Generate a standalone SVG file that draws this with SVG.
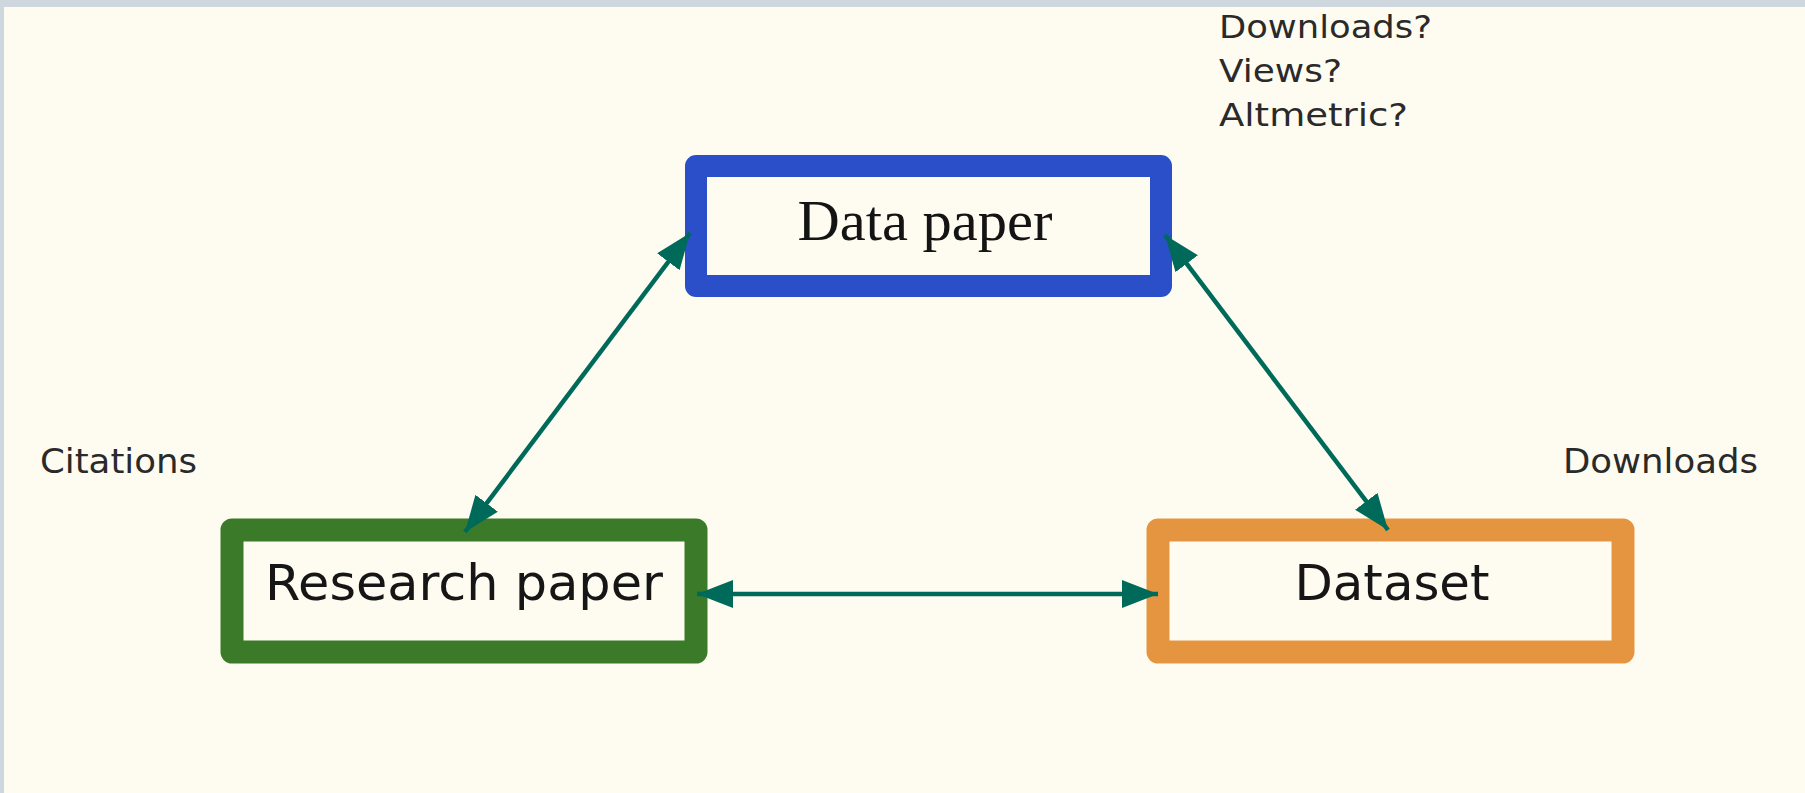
<svg xmlns="http://www.w3.org/2000/svg" width="1805" height="793" viewBox="0 0 1805 793">
  <defs>
    <style>
      .box { fill: #FEFCF1; stroke-linejoin: round; }
      .serif { font-family: "Liberation Serif", "Times New Roman", serif; fill: #141414; }
      .sans { font-family: "DejaVu Sans", "Liberation Sans", sans-serif; fill: #161616; }
      .lbl { font-family: "DejaVu Sans", "Liberation Sans", sans-serif; fill: #2a2a2a; }
      .conn { stroke: #006A5A; stroke-width: 4.5; fill: none; marker-start: url(#ah); marker-end: url(#ah); }
    </style>
    <marker id="ah" markerUnits="userSpaceOnUse" markerWidth="42" markerHeight="32" refX="36" refY="14" orient="auto-start-reverse" viewBox="0 0 42 32">
      <path d="M0,0 L36,14 L0,28 z" fill="#006A5A"/>
    </marker>
  </defs>
  <rect x="0" y="0" width="1805" height="793" fill="#FEFCF1"/>
  <rect x="0" y="0" width="1805" height="7" fill="#CED7DE"/>
  <rect x="0" y="0" width="4" height="793" fill="#CED7DE"/>

  <g id="node-data-paper">
    <rect class="box" x="696" y="166" width="465" height="120" stroke="#2B4FC8" stroke-width="22"/>
    <text class="serif" x="925" y="240" font-size="57" text-anchor="middle" textLength="255" lengthAdjust="spacingAndGlyphs">Data paper</text>
  </g>
  <g id="node-research-paper">
    <rect class="box" x="232" y="530" width="464" height="122" stroke="#3A7A28" stroke-width="23"/>
    <text class="sans" x="464" y="600" font-size="50" text-anchor="middle" textLength="398" lengthAdjust="spacingAndGlyphs">Research paper</text>
  </g>
  <g id="node-dataset">
    <rect class="box" x="1158" y="530" width="465" height="122" stroke="#E59540" stroke-width="23"/>
    <text class="sans" x="1392" y="600" font-size="50" text-anchor="middle" textLength="195" lengthAdjust="spacingAndGlyphs">Dataset</text>
  </g>

  <g id="labels">
    <text class="lbl" x="1219" y="38" font-size="32" textLength="213" lengthAdjust="spacingAndGlyphs">Downloads?</text>
    <text class="lbl" x="1219" y="82" font-size="32" textLength="123" lengthAdjust="spacingAndGlyphs">Views?</text>
    <text class="lbl" x="1219" y="126" font-size="32" textLength="189" lengthAdjust="spacingAndGlyphs">Altmetric?</text>
    <text class="lbl" x="40" y="473" font-size="33" textLength="157" lengthAdjust="spacingAndGlyphs">Citations</text>
    <text class="lbl" x="1563" y="473" font-size="33" textLength="195" lengthAdjust="spacingAndGlyphs">Downloads</text>
  </g>

  <g id="connectors">
    <line class="conn" x1="690" y1="233" x2="465" y2="532"/>
    <line class="conn" x1="1165" y1="235" x2="1388" y2="530"/>
    <line class="conn" x1="697" y1="594" x2="1158" y2="594"/>
  </g>
</svg>
